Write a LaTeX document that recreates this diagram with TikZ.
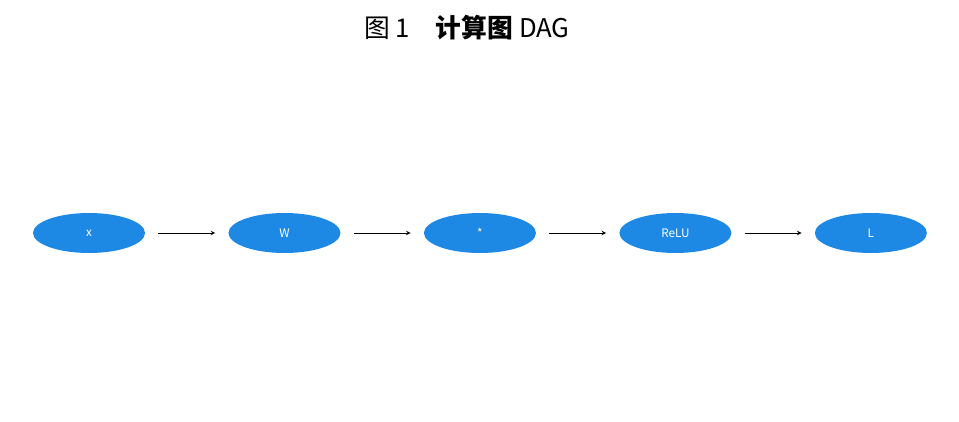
\documentclass[tikz,border=0pt]{standalone}
\usepackage{fontspec}
\setmainfont{Noto Sans CJK SC}
\usetikzlibrary{positioning,shapes.geometric}

\definecolor{nodeblue}{RGB}{30,136,229}

\begin{document}
\begin{tikzpicture}
\tikzset{op/.style={ellipse, fill=nodeblue, text=white, minimum width=3.36cm, minimum height=1.2cm, inner sep=0pt, font=\fontsize{10}{12}\selectfont},
  flow/.style={->, >=stealth, thick, shorten >=0.39cm, shorten <=0.39cm}}
\useasboundingbox (0,0) rectangle (28.77,12.63);

\node (title) at (14.01, 11.79) {\fontsize{22}{26}\selectfont 图 1\quad\textbf{计算图} DAG};

\node[op] (x) at (2.67, 5.64) {x};
\node[op, right=2.49cm of x] (w) {W};
\node[op, right=2.49cm of w] (mul) {*};
\node[op, right=2.49cm of mul] (relu) {ReLU};
\node[op, right=2.49cm of relu] (loss) {L};

\draw[flow] (x) -- (w);
\draw[flow] (w) -- (mul);
\draw[flow] (mul) -- (relu);
\draw[flow] (relu) -- (loss);

\end{tikzpicture}
\end{document}
